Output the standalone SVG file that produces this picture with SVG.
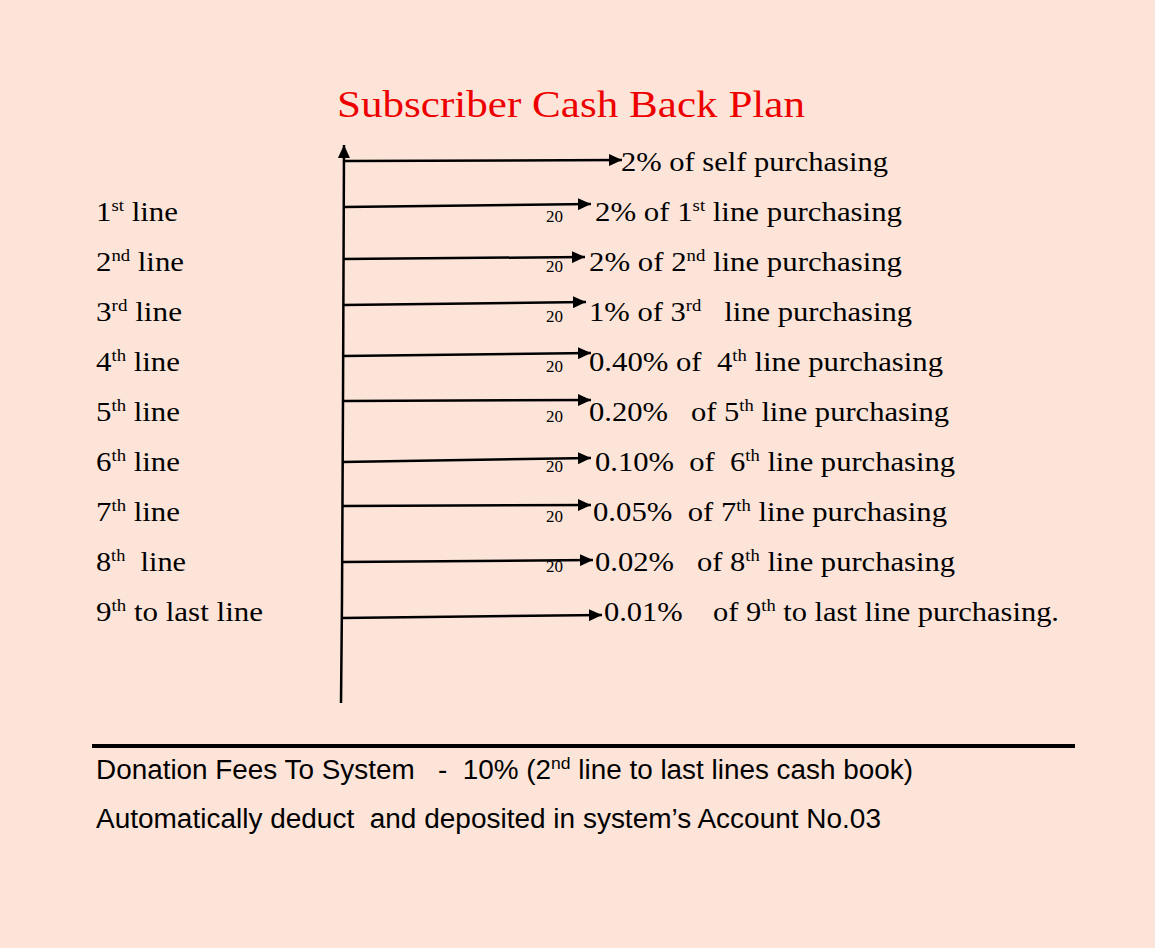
<svg xmlns="http://www.w3.org/2000/svg" width="1155" height="948" viewBox="0 0 1155 948" xml:space="preserve">
<defs>
<style>
text{white-space:pre}
.t{font-family:"Liberation Serif","DejaVu Serif",serif;font-size:28px;fill:#000}
.s{font-size:17px}
.n{font-family:"Liberation Serif","DejaVu Serif",serif;font-size:17px;fill:#000}
.b{font-family:"Liberation Sans Narrow","Liberation Sans",sans-serif;font-size:27px;fill:#000}
.c{stroke:#000;stroke-width:2.5;fill:none}
</style>
<marker id="ah" markerUnits="userSpaceOnUse" markerWidth="14" markerHeight="12" refX="13" refY="6" orient="auto"><path d="M0,0 L13,6 L0,12 z" fill="#000"/></marker>
</defs>
<rect width="1155" height="948" fill="#FCE4D8"/>
<g id="title"><text x="337" y="117" font-family="Liberation Serif,DejaVu Serif,serif" font-size="38" fill="#EE0000" textLength="468" lengthAdjust="spacingAndGlyphs">Subscriber Cash Back Plan</text></g>
<g id="connectors">
<path class="c" d="M341,703 L342,600 L343,400 L344,145" marker-end="url(#ah)"/>
<path class="c" d="M344,161 L622,160" marker-end="url(#ah)"/>
<path class="c" d="M344,207 L591,204" marker-end="url(#ah)"/>
<path class="c" d="M343,259 L585,257" marker-end="url(#ah)"/>
<path class="c" d="M343,305 L586,302" marker-end="url(#ah)"/>
<path class="c" d="M343,356 L591,353" marker-end="url(#ah)"/>
<path class="c" d="M343,401 L591,400" marker-end="url(#ah)"/>
<path class="c" d="M342,462 L591,458" marker-end="url(#ah)"/>
<path class="c" d="M342,506 L591,505" marker-end="url(#ah)"/>
<path class="c" d="M342,562 L593,560" marker-end="url(#ah)"/>
<path class="c" d="M342,618 L602,615" marker-end="url(#ah)"/>
</g>
<g id="self"><text class="t" x="621" y="171" textLength="267" lengthAdjust="spacingAndGlyphs">2% of self purchasing</text></g>
<g id="line1"><text class="t" x="96" y="221" textLength="82" lengthAdjust="spacingAndGlyphs">1<tspan class="s" dy="-10">st</tspan><tspan dy="10"> line</tspan></text><text class="n" x="546" y="222">20</text><text class="t" x="595" y="221" textLength="307" lengthAdjust="spacingAndGlyphs">2% of 1<tspan class="s" dy="-10">st</tspan><tspan dy="10"> line purchasing</tspan></text></g>
<g id="line2"><text class="t" x="96" y="271" textLength="88" lengthAdjust="spacingAndGlyphs">2<tspan class="s" dy="-10">nd</tspan><tspan dy="10"> line</tspan></text><text class="n" x="546" y="272">20</text><text class="t" x="589" y="271" textLength="313" lengthAdjust="spacingAndGlyphs">2% of 2<tspan class="s" dy="-10">nd</tspan><tspan dy="10"> line purchasing</tspan></text></g>
<g id="line3"><text class="t" x="96" y="321" textLength="86" lengthAdjust="spacingAndGlyphs">3<tspan class="s" dy="-10">rd</tspan><tspan dy="10"> line</tspan></text><text class="n" x="546" y="322">20</text><text class="t" x="589" y="321" textLength="323" lengthAdjust="spacingAndGlyphs">1% of 3<tspan class="s" dy="-10">rd</tspan><tspan dy="10">   line purchasing</tspan></text></g>
<g id="line4"><text class="t" x="96" y="371" textLength="84" lengthAdjust="spacingAndGlyphs">4<tspan class="s" dy="-10">th</tspan><tspan dy="10"> line</tspan></text><text class="n" x="546" y="372">20</text><text class="t" x="589" y="371" textLength="354" lengthAdjust="spacingAndGlyphs">0.40% of  4<tspan class="s" dy="-10">th</tspan><tspan dy="10"> line purchasing</tspan></text></g>
<g id="line5"><text class="t" x="96" y="421" textLength="84" lengthAdjust="spacingAndGlyphs">5<tspan class="s" dy="-10">th</tspan><tspan dy="10"> line</tspan></text><text class="n" x="546" y="422">20</text><text class="t" x="589" y="421" textLength="360" lengthAdjust="spacingAndGlyphs">0.20%   of 5<tspan class="s" dy="-10">th</tspan><tspan dy="10"> line purchasing</tspan></text></g>
<g id="line6"><text class="t" x="96" y="471" textLength="84" lengthAdjust="spacingAndGlyphs">6<tspan class="s" dy="-10">th</tspan><tspan dy="10"> line</tspan></text><text class="n" x="546" y="472">20</text><text class="t" x="595" y="471" textLength="360" lengthAdjust="spacingAndGlyphs">0.10%  of  6<tspan class="s" dy="-10">th</tspan><tspan dy="10"> line purchasing</tspan></text></g>
<g id="line7"><text class="t" x="96" y="521" textLength="84" lengthAdjust="spacingAndGlyphs">7<tspan class="s" dy="-10">th</tspan><tspan dy="10"> line</tspan></text><text class="n" x="546" y="522">20</text><text class="t" x="593" y="521" textLength="354" lengthAdjust="spacingAndGlyphs">0.05%  of 7<tspan class="s" dy="-10">th</tspan><tspan dy="10"> line purchasing</tspan></text></g>
<g id="line8"><text class="t" x="96" y="571" textLength="90" lengthAdjust="spacingAndGlyphs">8<tspan class="s" dy="-10">th</tspan><tspan dy="10">  line</tspan></text><text class="n" x="546" y="572">20</text><text class="t" x="595" y="571" textLength="360" lengthAdjust="spacingAndGlyphs">0.02%   of 8<tspan class="s" dy="-10">th</tspan><tspan dy="10"> line purchasing</tspan></text></g>
<g id="line9"><text class="t" x="96" y="621" textLength="167" lengthAdjust="spacingAndGlyphs">9<tspan class="s" dy="-10">th</tspan><tspan dy="10"> to last line</tspan></text><text class="t" x="604" y="621" textLength="455" lengthAdjust="spacingAndGlyphs">0.01%    of 9<tspan class="s" dy="-10">th</tspan><tspan dy="10"> to last line purchasing.</tspan></text></g>
<g id="footer">
<line x1="92" y1="746" x2="1075" y2="746" stroke="#000" stroke-width="4"/>
<text class="b" x="96" y="779" textLength="817" lengthAdjust="spacingAndGlyphs">Donation Fees To System   -  10% (2<tspan class="s" dy="-10">nd</tspan><tspan dy="10"> line to last lines cash book)</tspan></text>
<text class="b" x="96" y="828" textLength="785" lengthAdjust="spacingAndGlyphs">Automatically deduct  and deposited in system’s Account No.03</text>
</g>
</svg>
